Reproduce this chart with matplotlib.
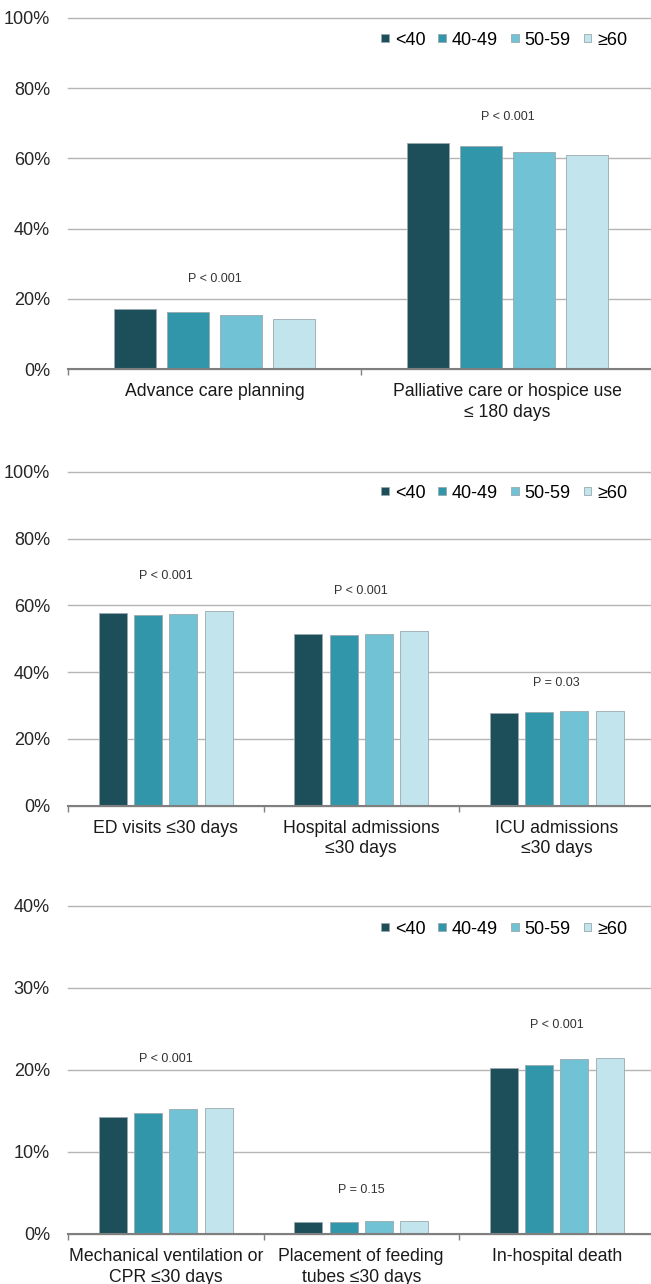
import matplotlib
matplotlib.use("Agg")
import matplotlib.pyplot as plt
import numpy as np

plt.rcParams['font.family'] = ['Liberation Sans', 'DejaVu Sans']

groups = ["<40", "40-49", "50-59", "≥60"]
colors = ["#1d4f5a", "#3296ab", "#72c2d5", "#c1e4ed"]

cats1 = ["Advance care planning", "Palliative care or hospice use\n≤ 180 days"]
vals1 = [[17.1, 64.5], [16.1, 63.6], [15.5, 61.9], [14.2, 60.9]]
pv1 = ["P < 0.001", "P < 0.001"]
pvy1 = [25.6, 71.9]

cats2 = ["ED visits ≤30 days", "Hospital admissions\n≤30 days", "ICU admissions\n≤30 days"]
vals2 = [[57.6, 51.3, 27.8], [57.1, 51.2, 28.0], [57.5, 51.5, 28.3], [58.2, 52.2, 28.3]]
pv2 = ["P < 0.001", "P < 0.001", "P = 0.03"]
pvy2 = [68.8, 64.3, 36.8]

cats3 = ["Mechanical ventilation or\nCPR ≤30 days", "Placement of feeding\ntubes ≤30 days", "In-hospital death"]
vals3 = [[14.2, 1.46, 20.2], [14.8, 1.5, 20.6], [15.2, 1.54, 21.3], [15.3, 1.58, 21.5]]
pv3 = ["P < 0.001", "P = 0.15", "P < 0.001"]
pvy3 = [21.3, 5.4, 25.5]

W, H = 651, 1284
fig = plt.figure(figsize=(W / 100, H / 100), dpi=100)

def frac_axes(left_px, top_px, bottom_px):
    return fig.add_axes([left_px / W, 1 - bottom_px / H, 1 - left_px / W, (bottom_px - top_px) / H])

panels = [
    (cats1, vals1, pv1, pvy1, 18, 369, 100, 20, 293, 0.937),
    (cats2, vals2, pv2, pvy2, 471.7, 805.7, 100, 20, 195.5, 0.936),
    (cats3, vals3, pv3, pvy3, 905.7, 1234, 40, 10, 195.5, 0.929),
]

left_px = 68
for cats, vals, pvs, pvy, top, bot, ymax, step, catw, legy in panels:
    ax = frac_axes(left_px, top, bot)
    n = len(cats)
    x = np.arange(n)
    bw = 0.143
    st = 0.181
    handles = []
    for j, (g, c) in enumerate(zip(groups, colors)):
        b = ax.bar(x + (j - 1.5) * st, vals[j], width=bw, color=c,
                   edgecolor="#9aa9ad", linewidth=0.6, label=g, zorder=3)
        handles.append(b)
    axw = W - left_px
    ax.set_xlim(-0.5, -0.5 + axw / catw)
    ax.set_ylim(0, ymax)
    ax.set_yticks(np.arange(0, ymax + 0.1, step))
    ax.set_yticklabels([f"{int(v)}%" for v in np.arange(0, ymax + 0.1, step)])
    ax.yaxis.grid(True, color="#b5b5b5", linewidth=1.0, zorder=0)
    for gl in ax.get_ygridlines():
        gl.set_clip_on(False)
    ax.set_axisbelow(True)
    for s in ["top", "right", "left"]:
        ax.spines[s].set_visible(False)
    ax.spines["bottom"].set_color("#7f7f7f")
    ax.spines["bottom"].set_linewidth(1.5)
    ax.spines["bottom"].set_zorder(4)
    ax.tick_params(axis="y", length=0, pad=13, labelsize=13, labelcolor="#262626")
    ax.set_xticks(x)
    ax.set_xticklabels(cats, fontsize=12.7, color="#1a1a1a", linespacing=1.3)
    ax.set_xticks(np.arange(n) - 0.5, minor=True)
    ax.tick_params(axis="x", which="major", length=0, pad=10)
    ax.tick_params(axis="x", which="minor", length=4, width=1, color="#7f7f7f", direction="out")
    for i in range(n):
        ax.text(x[i], pvy[i], pvs[i], ha="center", va="center", fontsize=9,
                color="#333333", family=["Liberation Sans Narrow", "Liberation Sans", "DejaVu Sans"])
    ax.legend(handles=handles, loc="center right", bbox_to_anchor=(0.972, legy), ncol=4,
              frameon=False, fontsize=13, handlelength=0.42, handleheight=0.26,
              handletextpad=0.33, columnspacing=0.72, borderaxespad=0)

fig.savefig("out.png", dpi=100)
